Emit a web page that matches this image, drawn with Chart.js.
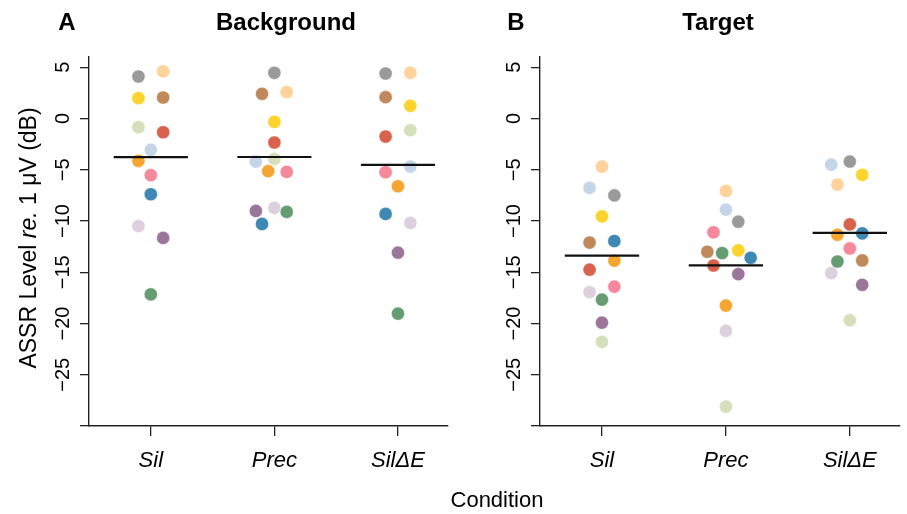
<!DOCTYPE html>
<html>
<head>
<meta charset="utf-8">
<script src="https://cdn.jsdelivr.net/npm/chart.js@4.4.0/dist/chart.umd.min.js"></script>
<style>
  html, body { margin: 0; padding: 0; background: #fff; }
  #wrap { position: relative; width: 907px; height: 514px; font-family: "Liberation Sans", Arial, sans-serif; }
  #boxA { position: absolute; left: 0; top: 0; width: 455px; height: 514px; }
  #boxB { position: absolute; left: 455px; top: 0; width: 452px; height: 514px; }
  #xTitle { position: absolute; left: 347px; width: 300px; top: 487px; text-align: center;
            font-size: 22px; line-height: 26px; color: #000; }
</style>
</head>
<body>
<div id="wrap">
  <div id="boxA"><canvas id="chartA" width="455" height="514"></canvas></div>
  <div id="boxB"><canvas id="chartB" width="452" height="514"></canvas></div>
  <div id="xTitle">Condition</div>
</div>
<script>
// ASSR level per subject, two panels x three conditions
const FONT = '"Liberation Sans", Arial, sans-serif';

const conditions = ['Sil', 'Prec', 'SilΔE'];
const yTickValues = [5, 0, -5, -10, -15, -20, -25, -30];

// one colour per subject (13 subjects), same order as the value arrays
const subjectColors = ['#9a9a9a', '#ffd29b', '#fdd42b', '#c0895c', '#d6dfbc', '#d9624f', '#c4d5e8',
                       '#f5a632', '#f5889a', '#3f88b3', '#ddd0de', '#9b769a', '#659c71'];

// Background (panel A)
const bgSil    = [4.1, 4.6, 1.98, 2.05, -0.85, -1.34, -3.06, -4.13, -5.53, -7.39, -10.5, -11.65, -17.16];
const bgPrec   = [4.46, 2.57, -0.33, 2.41, -3.94, -2.34, -4.2, -5.14, -5.21, -10.29, -8.72, -9.02, -9.11];
const bgSilDE  = [4.39, 4.46, 1.24, 2.08, -1.14, -1.76, -4.69, -6.61, -5.24, -9.31, -10.19, -13.09, -19.04];

// Target (panel B)
const tgSil    = [-7.5, -4.69, -9.55, -12.1, -21.8, -14.75, -6.77, -13.87, -16.4, -11.95, -16.94, -19.92, -17.67];
const tgPrec   = [-10.07, -7.07, -12.87, -13.0, -28.1, -14.34, -8.89, -18.25, -11.1, -13.59, -20.72, -15.18, -13.13];
const tgSilDE  = [-4.2, -6.45, -5.5, -13.85, -19.68, -10.33, -4.5, -11.34, -12.68, -11.21, -15.08, -16.23, -13.95];

// horizontal jitter of each dot, in category units
const bgSilJit   = [-0.1, 0.1, -0.1, 0.1, -0.1, 0.1, 0, -0.1, 0, 0, -0.1, 0.1, 0];
const bgPrecJit  = [0, 0.1, 0, -0.1, 0, 0, -0.15, -0.05, 0.1, -0.1, 0, -0.15, 0.1];
const bgSilDEJit = [-0.1, 0.1, 0.1, -0.1, 0.1, -0.1, 0.1, 0, -0.1, -0.1, 0.1, 0, 0];
const tgSilJit   = [0.1, 0, 0, -0.1, 0, -0.1, -0.1, 0.1, 0.1, 0.1, -0.1, 0, 0];
const tgPrecJit  = [0.1, 0, 0.1, -0.15, 0, -0.1, 0, 0, -0.1, 0.2, 0, 0.1, -0.03];
const tgSilDEJit = [0, -0.1, 0.1, 0.1, 0, 0, -0.15, -0.1, 0, 0.1, -0.15, 0.1, -0.1];

const mean = arr => arr.reduce((a, b) => a + b, 0) / arr.length;

// titles and the y title are drawn onto the canvas
const textPlugin = {
  id: 'panelText',
  afterDraw(chart, args, o) {
    const ctx = chart.ctx;
    ctx.save();
    ctx.fillStyle = '#000';
    ctx.textBaseline = 'middle';
    ctx.textAlign = 'center';
    ctx.font = 'bold 24px ' + FONT;
    ctx.fillText(o.letter, o.letterX, 23);
    ctx.fillText(o.title, o.titleX, 23);
    if (o.yTitle) {
      const parts = [['ASSR Level ', ''], ['re.', 'italic '], [' 1 μV (dB)', '']];
      ctx.translate(30, 238);
      ctx.rotate(-Math.PI / 2);
      let total = 0;
      parts.forEach(p => { ctx.font = p[1] + '23px ' + FONT; total += ctx.measureText(p[0]).width; });
      let x = -total / 2;
      ctx.textAlign = 'left';
      parts.forEach(p => {
        ctx.font = p[1] + '23px ' + FONT;
        ctx.fillText(p[0], x, 0);
        x += ctx.measureText(p[0]).width;
      });
    }
    ctx.restore();
  }
};

function makePanel(id, values, jitters, yWidth, text) {
  const points = [], colors = [];
  values.forEach((vals, c) => {
    vals.forEach((v, s) => {
      points.push({x: c + jitters[c][s], y: v});
      colors.push(subjectColors[s]);
    });
  });

  const meanSets = values.map((vals, c) => {
    const m = mean(vals);
    return {
      type: 'line',
      data: [{x: c - 0.3, y: m}, {x: c + 0.3, y: m}],
      borderColor: '#111',
      borderWidth: 2.2,
      pointRadius: 0,
      order: 0
    };
  });

  return new Chart(document.getElementById(id), {
    type: 'scatter',
    data: {
      datasets: [
        ...meanSets,
        {
          data: points,
          pointBackgroundColor: colors,
          pointBorderColor: 'rgba(255,255,255,0.45)',
          pointBorderWidth: 1,
          pointRadius: 6.6,
          order: 1
        }
      ]
    },
    options: {
      responsive: false,
      animation: false,
      events: [],
      layout: {padding: {left: 0, top: 57, right: 2, bottom: 0}},
      plugins: {
        legend: {display: false},
        tooltip: {enabled: false},
        panelText: text
      },
      scales: {
        x: {
          type: 'linear',
          min: -0.5,
          max: 2.4,
          afterBuildTicks: s => { s.ticks = [0, 1, 2].map(v => ({value: v})); },
          afterFit: s => { s.height = 88; },
          ticks: {
            callback: v => conditions[v],
            color: '#000',
            font: {family: FONT, size: 22, style: 'italic'},
            padding: 12,
            maxRotation: 0,
            autoSkip: false
          },
          grid: {drawOnChartArea: false, drawTicks: true, tickLength: 10, color: '#222', lineWidth: 1.3},
          border: {display: true, color: '#222', width: 1.4}
        },
        y: {
          type: 'linear',
          min: -30,
          max: 6,
          afterBuildTicks: s => { s.ticks = yTickValues.map(v => ({value: v})); },
          afterFit: s => { s.width = yWidth; },
          ticks: {
            callback: v => (v === -30 ? '' : String(v).replace('-', '\u2212')),
            color: '#000',
            font: {family: FONT, size: 20},
            minRotation: 90,
            maxRotation: 90,
            crossAlign: 'center',
            padding: 0,
            autoSkip: false
          },
          grid: {drawOnChartArea: false, drawTicks: true, tickLength: 9, color: '#222', lineWidth: 1.3},
          border: {display: true, color: '#222', width: 1.4}
        }
      }
    },
    plugins: [textPlugin]
  });
}

makePanel('chartA', [bgSil, bgPrec, bgSilDE], [bgSilJit, bgPrecJit, bgSilDEJit], 89,
  {letter: 'A', letterX: 67, title: 'Background', titleX: 286, yTitle: true});
makePanel('chartB', [tgSil, tgPrec, tgSilDE], [tgSilJit, tgPrecJit, tgSilDEJit], 85,
  {letter: 'B', letterX: 61, title: 'Target', titleX: 263, yTitle: false});
</script>
</body>
</html>
